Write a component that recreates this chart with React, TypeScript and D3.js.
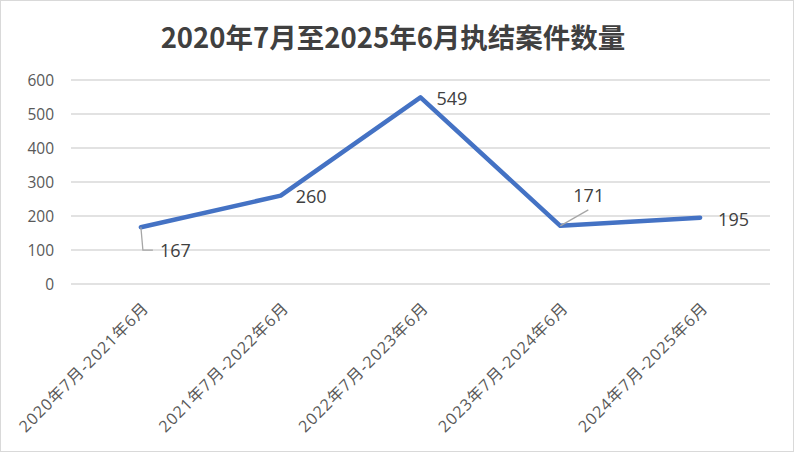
import React from "react";
import * as d3 from "d3";

const categories = [
  "2020年7月-2021年6月",
  "2021年7月-2022年6月",
  "2022年7月-2023年6月",
  "2023年7月-2024年6月",
  "2024年7月-2025年6月",
];
const values = [167, 260, 549, 171, 195];
const yTicks = [0, 100, 200, 300, 400, 500, 600];
const title = "2020年7月至2025年6月执结案件数量";

const W = 794;
const H = 452;
const margin = { left: 71, right: 24, top: 80, bottom: 168 };
const FONT = "'Open Sans', 'Noto Sans CJK SC', sans-serif";

export default function App() {
  const x = d3
    .scaleBand<string>()
    .domain(categories)
    .range([margin.left, W - margin.right]);
  const y = d3.scaleLinear().domain([0, 600]).range([H - margin.bottom, margin.top]);
  const cx = (c: string) => (x(c) as number) + x.bandwidth() / 2;
  const line = d3
    .line<number>()
    .x((_, i) => cx(categories[i]))
    .y((d) => y(d));

  const labelPos = [
    { dx: 19, dy: 23, leader: "elbow" },
    { dx: 15, dy: 1, leader: null },
    { dx: 16, dy: 1, leader: null },
    { dx: 13, dy: -30, leader: "diag" },
    { dx: 18, dy: 1.5, leader: null },
  ];

  return (
    <svg width={W} height={H} style={{ position: "absolute", left: 0, top: 0 }}>
      <rect x={0.5} y={0.5} width={W - 1} height={H - 1} fill="#fff" stroke="#d9d9d9" />
      <text
        x={W / 2 - 4}
        y={48}
        textAnchor="middle"
        fontFamily="'Noto Sans CJK SC', sans-serif"
        fontWeight="bold"
        fontSize={27.5}
        fill="#404040"
      >
        {title}
      </text>
      {yTicks.map((t) => (
        <g key={t}>
          <line
            x1={margin.left}
            x2={W - margin.right}
            y1={y(t)}
            y2={y(t)}
            stroke="#d9d9d9"
            strokeWidth={1.3}
          />
          <text
            x={54}
            y={y(t)}
            dy="0.36em"
            textAnchor="end"
            fontFamily={FONT}
            fontSize={15.5}
            fill="#595959"
          >
            {t}
          </text>
        </g>
      ))}
      {categories.map((c) => (
        <text
          key={c}
          transform={`translate(${cx(c) + 9},${H - margin.bottom + 25}) rotate(-45)`}
          textAnchor="end"
          fontFamily={FONT}
          fontSize={16}
          letterSpacing={1}
          fill="#595959"
        >
          {c}
        </text>
      ))}
      <path
        d={line(values) || ""}
        fill="none"
        stroke="#4472C4"
        strokeWidth={4.5}
        strokeLinecap="round"
        strokeLinejoin="round"
      />
      {values.map((v, i) => {
        const px = cx(categories[i]);
        const py = y(v);
        const p = labelPos[i];
        return (
          <g key={i}>
            {p.leader === "elbow" && (
              <polyline
                points={`${px},${py} ${px + 2},${py + p.dy} ${px + 12},${py + p.dy}`}
                fill="none"
                stroke="#a6a6a6"
                strokeWidth={1.3}
              />
            )}
            {p.leader === "diag" && (
              <line
                x1={px}
                y1={py}
                x2={px + 28}
                y2={py - 16}
                stroke="#a6a6a6"
                strokeWidth={1.3}
              />
            )}
            <text
              x={px + p.dx}
              y={py + p.dy}
              dy="0.36em"
              textAnchor="start"
              fontFamily={FONT}
              fontSize={18}
              fill="#404040"
            >
              {v}
            </text>
          </g>
        );
      })}
    </svg>
  );
}
